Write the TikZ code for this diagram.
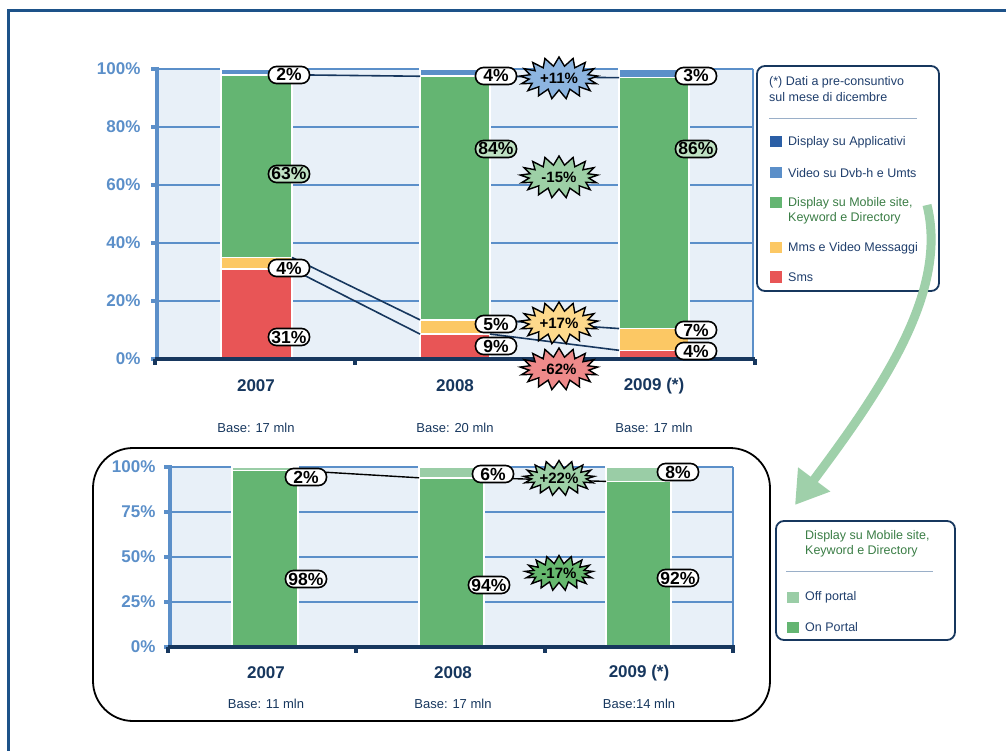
\documentclass[tikz,border=0pt]{standalone}
\usepackage{fontspec}
\setmainfont{Liberation Sans}
\usetikzlibrary{shapes.symbols,arrows.meta}

\definecolor{frameblue}{HTML}{1D5289}
\definecolor{navy}{HTML}{17375E}
\definecolor{axisblue}{HTML}{5B8FC9}
\definecolor{plotbg}{HTML}{E8F0F8}
\definecolor{appblue}{HTML}{2B5FA6}
\definecolor{videoblue}{HTML}{5B8FC9}
\definecolor{mobgreen}{HTML}{64B572}
\definecolor{mmsyellow}{HTML}{FCC864}
\definecolor{smsred}{HTML}{E85556}
\definecolor{offgreen}{HTML}{9ACDA6}
\definecolor{labgreen}{HTML}{BFE2C3}
\definecolor{txtgreen}{HTML}{3A7D45}
\definecolor{legnavy}{HTML}{1F3E6C}
\definecolor{sepgray}{HTML}{9AAFC8}
\definecolor{burstblue}{HTML}{8DB5E0}
\definecolor{burstyellow}{HTML}{FDD98C}
\definecolor{burstred}{HTML}{EE8A8A}
\definecolor{burstlgreen}{HTML}{9DD0A6}
\definecolor{burstdgreen}{HTML}{66B86E}
\definecolor{arrowgreen}{HTML}{9FD0AA}

\tikzset{
  seg/.style={draw=white, line width=1.5pt},
  grid/.style={axisblue, line width=2pt},
  vaxis/.style={axisblue, line width=4pt},
  haxis/.style={navy, line width=4.5pt},
  ylab/.style={anchor=east, text=axisblue, font=\bfseries\fontsize{17}{20}\selectfont},
  catlab/.style={text=navy, font=\bfseries\fontsize{17}{20}\selectfont},
  baselab/.style={text=navy, font=\fontsize{13}{15}\selectfont},
  pill/.style={draw=black, line width=1.6pt, rounded corners=8pt, fill=white,
    inner xsep=2pt, inner ysep=2pt, minimum width=41pt, text height=12.5pt, text depth=0.5pt,
    font=\bfseries\fontsize{17.5}{20}\selectfont},
  gpill/.style={pill, fill=labgreen},
  burst/.style={starburst, draw=black, line width=1.4pt, starburst points=17,
    starburst point height=9pt, random starburst=0, minimum width=78pt, minimum height=42pt,
    inner sep=0pt, font=\bfseries\fontsize{15}{17}\selectfont},
  sburst/.style={burst, minimum width=68pt, minimum height=35pt, starburst point height=8pt},
  link/.style={navy, line width=1.6pt},
  blink/.style={black, line width=1.4pt},
  legbox/.style={draw=navy, line width=1.8pt, rounded corners=8pt},
  legtxt/.style={anchor=west, text=legnavy, font=\fontsize{12.5}{14}\selectfont, inner sep=0pt},
  swatch/.style={minimum width=12pt, minimum height=11pt, inner sep=0pt, anchor=west},
}

\begin{document}
\begin{tikzpicture}[x=1pt, y=-1pt]
\useasboundingbox (0,0) rectangle (1006,751);

% outer frame
\draw[frameblue, line width=3pt] (8,751) -- (8,11) -- (1006,11);

% ================= upper chart =================
\fill[plotbg] (157,69) rectangle (753,359);
\draw[axisblue, line width=1.5pt] (753,69) -- (753,359);
\foreach \p in {20,40,60,80,100}
  \draw[grid] (157,{359-2.9*\p}) -- (753,{359-2.9*\p});
\foreach \p/\t in {0/0\%,20/20\%,40/40\%,60/60\%,80/80\%,100/100\%}
  \node[ylab] (ytop\p) at (144,{359-2.9*\p}) {\t};

% bars 2007
\fill[smsred,seg]    (221,{359-2.9*0})  rectangle (292,{359-2.9*31});
\fill[mmsyellow,seg] (221,{359-2.9*31}) rectangle (292,{359-2.9*35});
\fill[mobgreen,seg]  (221,{359-2.9*35}) rectangle (292,{359-2.9*98});
\fill[videoblue,seg] (221,{359-2.9*98}) rectangle (292,{359-2.9*100});
% bars 2008
\fill[smsred,seg]    (420,{359-2.9*0})    rectangle (490,{359-2.9*8.6});
\fill[mmsyellow,seg] (420,{359-2.9*8.6})  rectangle (490,{359-2.9*13.5});
\fill[mobgreen,seg]  (420,{359-2.9*13.5}) rectangle (490,{359-2.9*97.5});
\fill[videoblue,seg] (420,{359-2.9*97.5}) rectangle (490,{359-2.9*100});
% bars 2009
\fill[smsred,seg]    (619,{359-2.9*0})    rectangle (689,{359-2.9*3});
\fill[mmsyellow,seg] (619,{359-2.9*3})    rectangle (689,{359-2.9*10.5});
\fill[mobgreen,seg]  (619,{359-2.9*10.5}) rectangle (689,{359-2.9*97});
\fill[videoblue,seg] (619,{359-2.9*97})   rectangle (689,{359-2.9*100});

% axes
\draw[vaxis] (157,67) -- (157,359);
\foreach \p in {0,20,40,60,80,100}
  \draw[axisblue, line width=4pt] (151,{359-2.9*\p}) -- (157,{359-2.9*\p});
\draw[haxis] (155,359) -- (755,359);
\foreach \x in {155,355,555,755}
  \draw[navy, line width=4pt] (\x,359) -- (\x,365);

% segment corners used by the trend lines
\coordinate (t07v) at (292,{359-2.9*98});
\coordinate (t08vl) at (420,{359-2.9*97.5});
\coordinate (t08vr) at (490,{359-2.9*97.5});
\coordinate (t09v) at (619,{359-2.9*97});
\coordinate (t07m) at (292,{359-2.9*35});
\coordinate (t07s) at (292,{359-2.9*31});
\coordinate (t08ml) at (420,{359-2.9*13.5});
\coordinate (t08sl) at (420,{359-2.9*8.6});
\coordinate (t08mr) at (490,{359-2.9*13.5});
\coordinate (t08sr) at (490,{359-2.9*8.6});
\coordinate (t09m) at (619,{359-2.9*10.5});
\coordinate (t09s) at (619,{359-2.9*3});

\draw[link] (t07v) -- (t08vl);
\draw[link] (t08vr) -- (t09v);
\draw[link] (t07m) -- (t08ml);
\draw[link] (t07s) -- (t08sl);
\draw[link] (t08mr) -- (t09m);
\draw[link] (t08sr) -- (t09s);

% value labels
\node[pill]  (v07a) at (289,75)  {2\%};
\node[gpill] (v07g) at (289,174) {63\%};
\node[pill]  (v07m) at (289,268) {4\%};
\node[pill]  (v07s) at (289,337) {31\%};
\node[pill]  (v08a) at (496,76)  {4\%};
\node[gpill] (v08g) at (496,149) {84\%};
\node[pill]  (v08m) at (496,324) {5\%};
\node[pill]  (v08s) at (496,346) {9\%};
\node[pill]  (v09a) at (696,76)  {3\%};
\node[gpill] (v09g) at (696,149) {86\%};
\node[pill]  (v09m) at (696,330) {7\%};
\node[pill]  (v09s) at (696,351) {4\%};

% growth bursts
\node[burst, fill=burstblue]   (g1) at (559,78)  {+11\%};
\node[burst, fill=burstlgreen] (g2) at (559,177) {-15\%};
\node[burst, fill=burstyellow] (g3) at (559,323) {+17\%};
\node[burst, fill=burstred]    (g4) at (559,369) {-62\%};

% categories
\node[catlab] (c07) at (256,386) {2007};
\node[catlab] (c08) at (455,386) {2008};
\node[catlab] (c09) at (654,386) {2009 (*)};
\node[baselab] (b07) at (256,428) {Base: 17 mln};
\node[baselab] (b08) at (455,428) {Base: 20 mln};
\node[baselab] (b09) at (654,428) {Base: 17 mln};

% legend (upper)
\draw[legbox] (757,66) rectangle (939,291);
\node[legtxt] (l0a) at (769,82) {(*) Dati a pre-consuntivo};
\node[legtxt] (l0b) at (769,97) {sul mese di dicembre};
\draw[sepgray, line width=0.8pt] (769,118) -- (917,118);
\node[swatch, fill=appblue]   (s1) at (770,142) {};
\node[legtxt] (l1) at (788,142) {Display su Applicativi};
\node[swatch, fill=videoblue] (s2) at (770,173) {};
\node[legtxt] (l2) at (788,173) {Video su Dvb-h e Umts};
\node[swatch, fill=mobgreen]  (s3) at (770,203) {};
\node[legtxt, text=txtgreen] (l3a) at (788,203) {Display su Mobile site,};
\node[legtxt, text=txtgreen] (l3b) at (788,218) {Keyword e Directory};
\node[swatch, fill=mmsyellow] (s4) at (770,248) {};
\node[legtxt] (l4) at (788,248) {Mms e Video Messaggi};
\node[swatch, fill=smsred]    (s5) at (770,277) {};
\node[legtxt] (l5) at (788,277) {Sms};

% arrow to the detail chart
\draw[arrowgreen, line width=9pt, -{Triangle[length=32pt, width=38pt]}]
  (927,205) .. controls (948,290) and (885,385) .. (795,505);

% ================= lower chart =================
\draw[black, line width=1.8pt, rounded corners=40pt] (93,448) rectangle (770,721);

\fill[plotbg] (170,467) rectangle (733,647);
\draw[axisblue, line width=1.5pt] (733,467) -- (733,647);
\foreach \p in {25,50,75,100}
  \draw[grid] (170,{647-1.8*\p}) -- (733,{647-1.8*\p});
\foreach \p/\t in {0/0\%,25/25\%,50/50\%,75/75\%,100/100\%}
  \node[ylab] (ybot\p) at (159,{647-1.8*\p}) {\t};

% bars
\fill[mobgreen,seg] (232,647) rectangle (298,{647-1.8*98});
\fill[offgreen,seg] (232,{647-1.8*98}) rectangle (298,{647-1.8*100});
\fill[mobgreen,seg] (419,647) rectangle (484,{647-1.8*94});
\fill[offgreen,seg] (419,{647-1.8*94}) rectangle (484,{647-1.8*100});
\fill[mobgreen,seg] (606,647) rectangle (671,{647-1.8*92});
\fill[offgreen,seg] (606,{647-1.8*92}) rectangle (671,{647-1.8*100});

\draw[vaxis] (170,465) -- (170,647);
\foreach \p in {0,25,50,75,100}
  \draw[axisblue, line width=4pt] (164,{647-1.8*\p}) -- (170,{647-1.8*\p});
\draw[haxis] (168,647) -- (735,647);
\foreach \x in {168,356,545,733}
  \draw[navy, line width=4pt] (\x,647) -- (\x,653);

\coordinate (d07) at (298,{647-1.8*98});
\coordinate (d08l) at (419,{647-1.8*94});
\coordinate (d08r) at (484,{647-1.8*94});
\coordinate (d09) at (606,{647-1.8*92});
\draw[blink] (d07) -- (d08l);
\draw[blink] (d08r) -- (d09);

\node[pill] (w07a) at (306,477) {2\%};
\node[pill] (w07b) at (306,579) {98\%};
\node[pill] (w08a) at (493,474) {6\%};
\node[pill] (w08b) at (489,585) {94\%};
\node[pill] (w09a) at (678,472) {8\%};
\node[pill] (w09b) at (678,578) {92\%};

\node[sburst, fill=burstlgreen] (g5) at (559,478) {+22\%};
\node[sburst, fill=burstdgreen] (g6) at (559,573) {-17\%};

\node[catlab] (e07) at (266,673) {2007};
\node[catlab] (e08) at (453,673) {2008};
\node[catlab] (e09) at (639,673) {2009 (*)};
\node[baselab] (f07) at (266,704) {Base: 11 mln};
\node[baselab] (f08) at (453,704) {Base: 17 mln};
\node[baselab] (f09) at (639,704) {Base:14 mln};

% legend (lower)
\draw[legbox] (776,521) rectangle (955,640);
\node[legtxt, text=txtgreen] (m0a) at (805,536) {Display su Mobile site,};
\node[legtxt, text=txtgreen] (m0b) at (805,551) {Keyword e Directory};
\draw[sepgray, line width=0.8pt] (786,571) -- (933,571);
\node[swatch, fill=offgreen] (n1) at (787,597) {};
\node[legtxt] (m1) at (805,597) {Off portal};
\node[swatch, fill=mobgreen] (n2) at (787,627) {};
\node[legtxt] (m2) at (805,627) {On Portal};
\end{tikzpicture}
\end{document}
